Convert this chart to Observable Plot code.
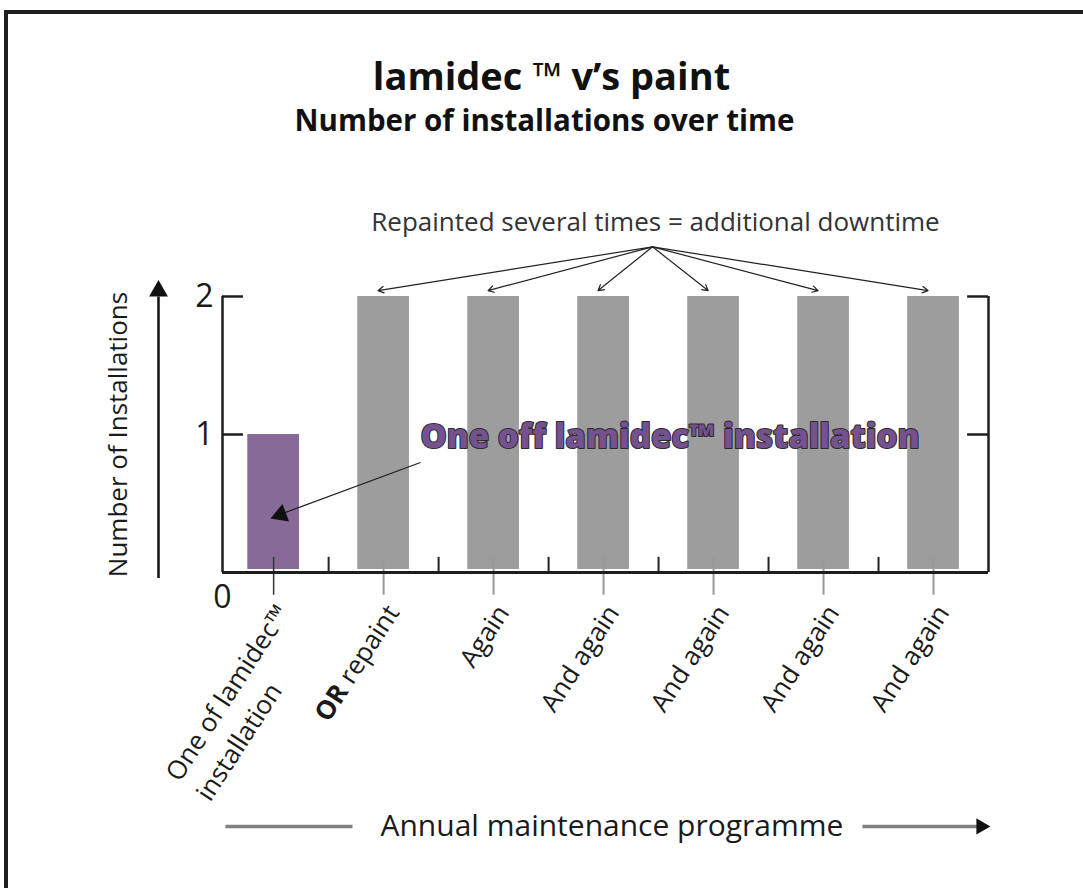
<!DOCTYPE html>
<html><head><meta charset="utf-8">
<script src="https://cdn.jsdelivr.net/npm/d3@7"></script>
<script src="https://cdn.jsdelivr.net/npm/@observablehq/plot@0.6"></script>
<style>
html,body{margin:0;padding:0;background:#fff;overflow:hidden;width:1083px;height:888px;}
body{position:relative;font-family:"Open Sans",sans-serif;color:#111;}
#frame{position:absolute;left:4px;top:10px;width:1200px;height:1000px;border:4px solid #1e1e1e;box-sizing:border-box;pointer-events:none;}
#head{position:relative;height:160px;}
#title{position:absolute;left:10px;width:1083px;top:50px;height:50px;line-height:50px;text-align:center;font-weight:700;font-size:38px;}
#subtitle{position:absolute;left:3px;width:1083px;top:100px;height:40px;line-height:40px;text-align:center;font-weight:700;font-size:29.5px;}
#chart svg{display:block;}
</style></head>
<body>
<div id="frame"></div>
<div id="head"><div id="title"></div><div id="subtitle"></div></div>
<div id="chart"></div>
<script>
// ---- data ----
const categories = ["One of lamidec™\ninstallation", "OR repaint", "Again", "And again", "And again", "And again", "And again"];
const installations = [1, 2, 2, 2, 2, 2, 2];
const kinds = ["lamidec", "paint", "paint", "paint", "paint", "paint", "paint"];
const kindDomain = ["lamidec", "paint"];
const kindColors = ["#886a98", "#9d9d9d"];
const yTicks = [0, 1, 2];

// ---- texts ----
const titleText = "lamidec ™ v’s paint";
const subtitleText = "Number of installations over time";
const yTitle = "Number of Installations";
const xTitle = "Annual maintenance programme";
const repaintNote = "Repainted several times = additional downtime";
const lamidecNote = "One off lamidec™ installation";

document.getElementById("title").textContent = titleText;
document.getElementById("subtitle").textContent = subtitleText;

const idx = categories.map((_, i) => i);
const bars = idx.map(i => ({i, label: categories[i], value: installations[i], kind: kinds[i]}));
const X0 = -0.465, X1 = 6.5;
const one = [0];

const plot = Plot.plot({
  width: 1083, height: 728,
  marginTop: 136, marginBottom: 316, marginLeft: 222, marginRight: 95,
  x: {domain: [X0, X1]},
  y: {domain: [0, 2]},
  color: {domain: kindDomain, range: kindColors},
  style: {fontFamily: "Open Sans", fontSize: "26px", color: "#1a1a1a", background: "transparent", overflow: "visible"},
  marks: [
    Plot.rectY(bars, {x1: d => d.i - 0.235, x2: d => d.i + 0.235, y1: 0, y2: "value", fill: "kind", insetBottom: 3}),
    // centre ticks
    Plot.ruleX(idx.slice(1), {x: d => d, y1: 0.11, y2: -0.165, stroke: "#9a9a9a", strokeWidth: 2}),
    Plot.ruleX(idx.slice(0, 1), {x: d => d, y1: 0.11, y2: -0.165, stroke: "#333", strokeWidth: 1.5}),
    // boundary ticks
    Plot.ruleX(idx.slice(0, -1), {x: d => d + 0.5, y1: 0, y2: 0.11, stroke: "#222", strokeWidth: 2}),
    // frame lines
    Plot.ruleX([X0, X1], {x: d => d, y1: 0, y2: 2, stroke: "#1e1e1e", strokeWidth: 2.5}),
    Plot.ruleY([0], {y: d => d, x1: X0, x2: X1, stroke: "#1e1e1e", strokeWidth: 3}),
    Plot.ruleY(yTicks.slice(1), {y: d => d, x1: X0, x2: X0 + 0.19, stroke: "#1e1e1e", strokeWidth: 2.5}),
    Plot.ruleY(yTicks.slice(1), {y: d => d, x1: X1 - 0.19, x2: X1, stroke: "#1e1e1e", strokeWidth: 2.5}),
    Plot.axisY(yTicks.slice(1), {tickSize: 0, tickPadding: 9, fontSize: 32, tickFormat: d => String(d), label: null}),
    Plot.text(yTicks.slice(0, 1), {x: X0, y: d => d, text: d => String(d), dy: 25, fontSize: 32}),
    Plot.axisX(idx, {tickFormat: i => categories[i], tickRotate: -57, tickSize: 0, tickPadding: 26,
      textAnchor: "end", lineAnchor: "top", lineHeight: 1.4, fontSize: 26, dx: -5, label: null}),
    // y title and arrow
    Plot.text([yTitle], {x: -1.41, y: 1, text: d => d, rotate: -90, fontSize: 26}),
    Plot.link(one, {x1: -1.047, x2: -1.047, y1: -0.04, y2: 2.0, stroke: "#111", strokeWidth: 2.5}),
    Plot.dot(one, {x: -1.047, y: 2.04, symbol: "triangle", r: 7, fill: "#111", stroke: null}),
    // x title and arrow
    Plot.link(one, {x1: -0.438, x2: 0.717, y1: -1.84, y2: -1.84, stroke: "#808080", strokeWidth: 3.5}),
    Plot.link(one, {x1: 5.353, x2: 6.40, y1: -1.84, y2: -1.84, stroke: "#808080", strokeWidth: 3.5}),
    Plot.dot(one, {x: 6.432, y: -1.84, symbol: "triangle", rotate: 90, r: 6, fill: "#111", stroke: null}),
    Plot.text([xTitle], {x: 3.076, y: -1.84, text: d => d, fontSize: 30}),
    // repaint annotation
    Plot.arrow(idx.slice(1), {x1: 3.445, y1: 2.36, x2: d => d - 0.05, y2: 2.043, stroke: "#222", strokeWidth: 1.2, headLength: 8}),
    Plot.text([repaintNote], {x: 3.472, y: 2.536, text: d => d, fontSize: 26, fill: "#333"}),
    // lamidec annotation
    Plot.link(one, {x1: 1.335, y1: 0.797, x2: 0.09, y2: 0.43, stroke: "#222", strokeWidth: 1.3}),
    Plot.dot(one, {x: 0.064, y: 0.419, symbol: "triangle", rotate: 249.5, r: 7, fill: "#111", stroke: null}),
    Plot.text([lamidecNote], {x: 1.335, y: 0.978, text: d => d, textAnchor: "start", fontSize: 33, fontWeight: 800,
      fill: "#75518f", stroke: "#2b2b2b", strokeWidth: 2, paintOrder: "stroke"})
  ]
});
document.getElementById("chart").append(plot);

plot.querySelectorAll("text").forEach(t => {
  const ts = t.querySelectorAll("tspan");
  if (t.textContent === "OR repaint") {
    while (t.firstChild) t.removeChild(t.firstChild);
    const ns = "http://www.w3.org/2000/svg";
    const a = document.createElementNS(ns, "tspan");
    a.setAttribute("font-weight", "bold");
    a.textContent = "OR";
    const b = document.createElementNS(ns, "tspan");
    b.textContent = " repaint";
    t.append(a, b);
  } else if (ts.length === 2 && ts[0].textContent.startsWith("One of")) {
    const L = ts[0].getComputedTextLength();
    t.setAttribute("text-anchor", "start");
    ts.forEach(s => s.setAttribute("x", -L));
  }
});
</script>
</body></html>
